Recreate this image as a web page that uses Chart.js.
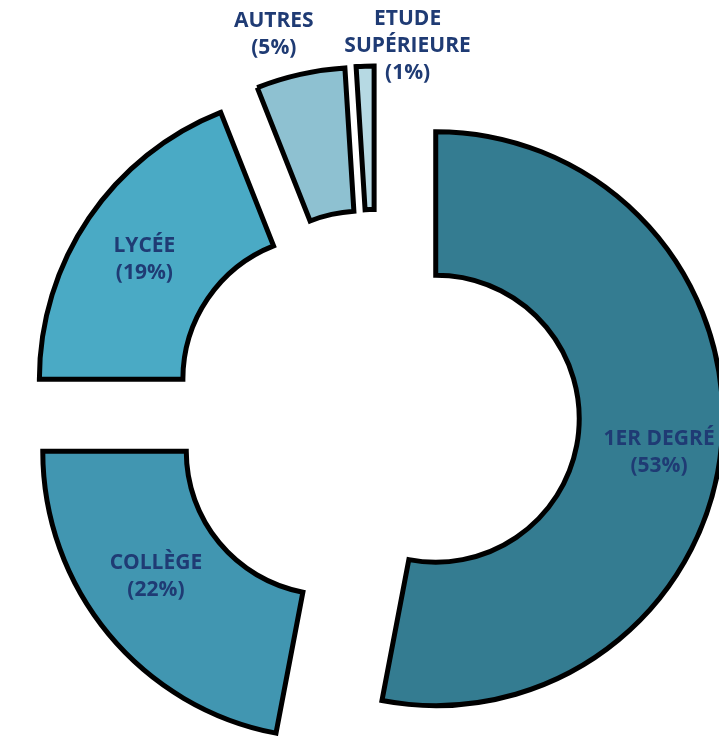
<!DOCTYPE html>
<html>
<head>
<meta charset="utf-8">
<script src="https://cdn.jsdelivr.net/npm/chart.js@4"></script>
<style>
  html, body { margin: 0; padding: 0; background: #fff; }
  #wrap { width: 719px; height: 736px; }
</style>
</head>
<body>
<div id="wrap"><canvas id="donut-chart"></canvas></div>
<script>
// Données du graphique
const categories = ['1ER DEGRÉ', 'COLLÈGE', 'LYCÉE', 'AUTRES', 'ETUDE SUPÉRIEURE'];
const labelLines = [['1ER DEGRÉ'], ['COLLÈGE'], ['LYCÉE'], ['AUTRES'], ['ETUDE', 'SUPÉRIEURE']];
const shares = [53, 22, 19, 5, 1];
const sliceColors = ['#347c91', '#4196b1', '#4aaac5', '#8ec1d1', '#b6d9e3'];

// Étiquettes hors du donut pour les petites parts
const outsideLabel = [false, false, false, true, true];
const labelNudge = [[9, 14], [-8, -12], [-4, 1], [-16, 7], [44, 28]];

const EXPLODE = 60; // écart de chaque part par rapport au centre

// dessine chaque part décalée le long de son angle médian
const explodePlugin = {
  id: 'explode',
  beforeDatasetsDraw(chart) {
    const ctx = chart.ctx;
    chart.getDatasetMeta(0).data.forEach((arc) => {
      const mid = (arc.startAngle + arc.endAngle) / 2;
      ctx.save();
      ctx.translate(Math.cos(mid) * EXPLODE, Math.sin(mid) * EXPLODE);
      arc.draw(ctx, chart.chartArea);
      ctx.restore();
    });
    return false;
  },
  afterDraw(chart) {
    const ctx = chart.ctx;
    ctx.save();
    ctx.font = 'bold 21px "Open Sans"';
    ctx.fillStyle = '#1f3b74';
    ctx.textAlign = 'center';
    ctx.textBaseline = 'middle';
    chart.getDatasetMeta(0).data.forEach((arc, i) => {
      const mid = (arc.startAngle + arc.endAngle) / 2;
      let x, y;
      if (outsideLabel[i]) {
        const r = arc.outerRadius + EXPLODE + 48;
        x = arc.x + Math.cos(mid) * r;
        y = arc.y + Math.sin(mid) * r;
      } else {
        const p = arc.getCenterPoint();
        x = p.x + Math.cos(mid) * EXPLODE;
        y = p.y + Math.sin(mid) * EXPLODE;
      }
      x += labelNudge[i][0];
      y += labelNudge[i][1];
      const lines = labelLines[i].concat(['(' + shares[i] + '%)']);
      const lh = 27;
      lines.forEach((t, k) => {
        ctx.fillText(t, x, y + (k - (lines.length - 1) / 2) * lh);
      });
    });
    ctx.restore();
  }
};

const chartCanvas = document.getElementById('donut-chart').getContext('2d');
new Chart(chartCanvas, {
  type: 'doughnut',
  data: {
    labels: categories,
    datasets: [{
      data: shares,
      backgroundColor: sliceColors,
      borderColor: '#000',
      borderWidth: 5,
      borderJoinStyle: 'miter',
      hoverOffset: 0
    }]
  },
  options: {
    responsive: true,
    maintainAspectRatio: false,
    animation: false,
    radius: 287,
    cutout: '50%',
    layout: { padding: { left: 33, top: 90, right: 0, bottom: 0 } },
    plugins: {
      legend: { display: false },
      tooltip: { enabled: false }
    }
  },
  plugins: [explodePlugin]
});
</script>
</body>
</html>
